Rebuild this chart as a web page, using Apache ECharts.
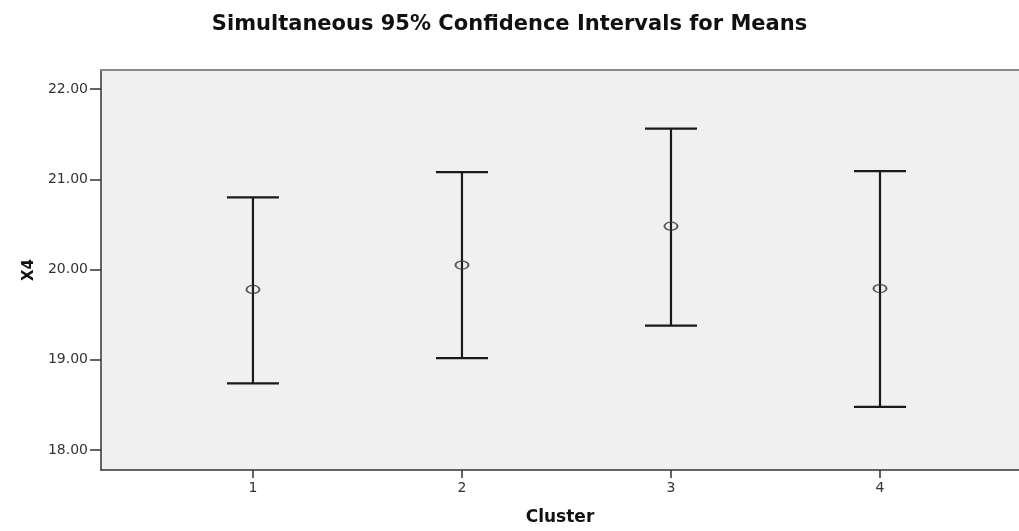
<!DOCTYPE html>
<html>
<head>
<meta charset="utf-8">
<script src="https://cdn.jsdelivr.net/npm/echarts@6/dist/echarts.min.js"></script>
<style>
html,body{margin:0;padding:0;background:#fff;}
#chart{width:1019px;height:531px;}
</style>
</head>
<body>
<div id="chart"></div>
<script>
// Data
const clusters = [1, 2, 3, 4];
const means = [19.78, 20.05, 20.48, 19.79];
const lowerCI = [18.74, 19.02, 19.38, 18.48];
const upperCI = [20.80, 21.08, 21.56, 21.09];
const yTicks = [18, 19, 20, 21, 22];
const xTicks = [1, 2, 3, 4];

const FONT = "'DejaVu Sans', 'Liberation Sans', Arial, sans-serif";

const chart = echarts.init(document.getElementById('chart'), null, {renderer: 'canvas'});

const errData = clusters.map((c, i) => [c, lowerCI[i], upperCI[i]]);
const meanData = clusters.map((c, i) => [c, means[i]]);

chart.setOption({
  animation: false,
  backgroundColor: '#ffffff',
  title: {
    text: 'Simultaneous 95% Confidence Intervals for Means',
    left: 'center',
    top: 9,
    textStyle: {fontFamily: FONT, fontSize: 21, fontWeight: 'bold', color: '#111'}
  },
  grid: {
    left: 101, top: 70, right: 0, bottom: 53,
    show: true,
    backgroundColor: '#f0f0f0',
    borderWidth: 0
  },
  xAxis: [{
    type: 'value',
    min: 0.273,
    max: 4.665,
    name: 'Cluster',
    nameLocation: 'middle',
    nameGap: 39,
    nameTextStyle: {fontFamily: FONT, fontSize: 17, fontWeight: 'bold', color: '#111'},
    splitLine: {show: false},
    axisLine: {show: true, lineStyle: {color: '#333', width: 1.5}},
    axisTick: {show: true, length: 8, customValues: xTicks, lineStyle: {color: '#333', width: 1.5}},
    axisLabel: {customValues: xTicks, margin: 11, fontFamily: FONT, fontSize: 14, color: '#333'}
  }, {
    type: 'value',
    position: 'top',
    min: 0.273,
    max: 4.665,
    splitLine: {show: false},
    axisLine: {show: true, lineStyle: {color: '#888', width: 2}},
    axisTick: {show: false},
    axisLabel: {show: false}
  }],
  yAxis: {
    type: 'value',
    min: 17.78,
    max: 22.21,
    name: 'X4',
    nameLocation: 'middle',
    nameGap: 57,
    nameTextStyle: {fontFamily: FONT, fontSize: 15, fontWeight: 'bold', color: '#111'},
    splitLine: {show: false},
    axisLine: {show: true, lineStyle: {color: '#333', width: 1.5}},
    axisTick: {show: true, length: 11, customValues: yTicks, lineStyle: {color: '#333', width: 1.5}},
    axisLabel: {
      customValues: yTicks, margin: 13, fontFamily: FONT, fontSize: 14, color: '#333',
      formatter: v => v.toFixed(2)
    }
  },
  series: [
    {
      type: 'custom',
      data: errData,
      z: 2,
      renderItem: function (params, api) {
        const x = api.value(0);
        const lo = api.coord([x, api.value(1)]);
        const hi = api.coord([x, api.value(2)]);
        const half = 26;
        const style = {stroke: '#1a1a1a', lineWidth: 2.2};
        return {
          type: 'group',
          children: [
            {type: 'line', shape: {x1: hi[0], y1: hi[1], x2: lo[0], y2: lo[1]}, style: style},
            {type: 'line', shape: {x1: hi[0] - half, y1: hi[1], x2: hi[0] + half, y2: hi[1]}, style: style},
            {type: 'line', shape: {x1: lo[0] - half, y1: lo[1], x2: lo[0] + half, y2: lo[1]}, style: style}
          ]
        };
      }
    },
    {
      type: 'scatter',
      data: meanData,
      z: 3,
      symbol: 'circle',
      symbolSize: [13, 8],
      itemStyle: {color: 'rgba(0,0,0,0)', borderColor: '#333', borderWidth: 1.6}
    }
  ]
});
</script>
</body>
</html>
